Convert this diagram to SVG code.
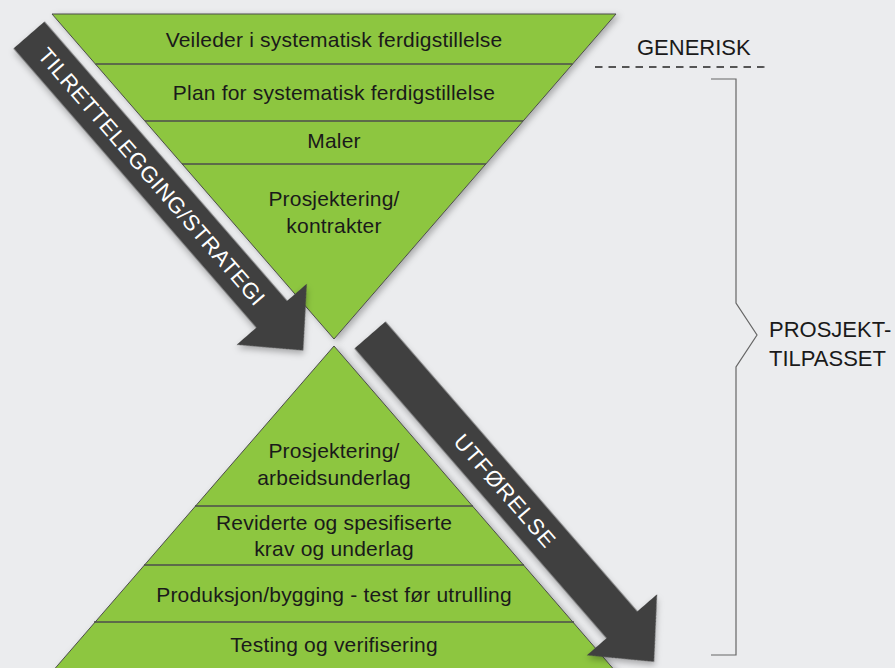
<svg xmlns="http://www.w3.org/2000/svg" width="895" height="668" viewBox="0 0 895 668">
<defs>
<filter id="sh" x="-20%" y="-20%" width="140%" height="140%">
<feDropShadow dx="3" dy="2" stdDeviation="3" flood-color="#000" flood-opacity="0.28"/>
</filter>
<style>
.tri{fill:#8dc63f;stroke:#4d4d4d;stroke-width:1}
.div{stroke:#4d4d4d;stroke-width:1.3;fill:none}
.lbl{font-family:"Liberation Sans",Arial,sans-serif;font-size:21px;fill:#1a1a1a;text-anchor:middle;letter-spacing:0.2px}
.side{font-family:"Liberation Sans",Arial,sans-serif;font-size:22px;fill:#1a1a1a}
.arr{fill:#414141}
.atxt{font-family:"Liberation Sans",Arial,sans-serif;font-size:22px;fill:#ffffff}
.brk{stroke:#666;stroke-width:1.2;fill:none}
</style>
</defs>
<rect width="895" height="668" fill="#ebecee"/>

<g id="upper-funnel">
<polygon class="tri" filter="url(#sh)" points="52,14 616,14 334,339"/>
<line class="div" x1="95.5" y1="64" x2="572.5" y2="64"/>
<line class="div" x1="145" y1="121" x2="523" y2="121"/>
<line class="div" x1="182" y1="164" x2="486" y2="164"/>
<text class="lbl" x="334" y="47">Veileder i systematisk ferdigstillelse</text>
<text class="lbl" x="334" y="100">Plan for systematisk ferdigstillelse</text>
<text class="lbl" x="334" y="148">Maler</text>
<text class="lbl" x="334" y="206">Prosjektering/</text>
<text class="lbl" x="334" y="233">kontrakter</text>
</g>

<g id="lower-pyramid">
<polygon class="tri" filter="url(#sh)" points="334,346 623,680 45,680"/>
<line class="div" x1="195" y1="506" x2="473" y2="506"/>
<line class="div" x1="144" y1="565" x2="524" y2="565"/>
<line class="div" x1="94" y1="622" x2="574" y2="622"/>
<text class="lbl" x="334" y="458">Prosjektering/</text>
<text class="lbl" x="334" y="485">arbeidsunderlag</text>
<text class="lbl" x="334" y="530">Reviderte og spesifiserte</text>
<text class="lbl" x="334" y="556">krav og underlag</text>
<text class="lbl" x="334" y="602">Produksjon/bygging - test før utrulling</text>
<text class="lbl" x="334" y="652">Testing og verifisering</text>
</g>

<g id="connectors">
<g id="arrow-strategi" transform="translate(29,35) rotate(49)">
<path class="arr" filter="url(#sh)" d="M0,-20.5 H370 V-46.5 L418,0 L370,46.5 V20.5 H0 Z"/>
<text class="atxt" x="21" y="8" letter-spacing="0.6">TILRETTELEGGING/STRATEGI</text>
</g>
<g id="arrow-utforelse" transform="translate(370,335) rotate(49)">
<path class="arr" filter="url(#sh)" d="M0,-20.5 H384 V-46.5 L433,0 L384,46.5 V20.5 H0 Z"/>
<text class="atxt" x="135" y="8" letter-spacing="1.2">UTFØRELSE</text>
</g>
</g>

<g id="generisk">
<text class="side" x="637" y="55">GENERISK</text>
<line x1="595" y1="67" x2="768" y2="67" stroke="#555" stroke-width="1.8" stroke-dasharray="7.5 6"/>
</g>

<g id="prosjekttilpasset">
<polyline class="brk" points="711,79 736,79 736,303 757,335 736,367 736,655 711,655"/>
<text class="side" x="769" y="337">PROSJEKT-</text>
<text class="side" x="769" y="366">TILPASSET</text>
</g>
</svg>
